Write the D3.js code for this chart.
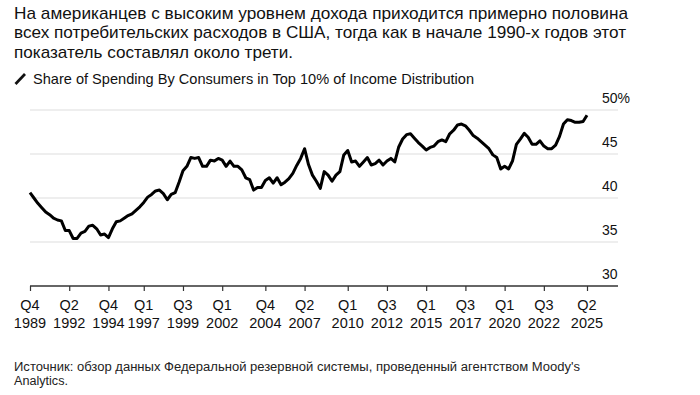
<!DOCTYPE html>
<html>
<head>
<meta charset="utf-8">
<script src="https://cdn.jsdelivr.net/npm/d3@7"></script>
<style>
  body { margin: 0; background: #fff; }
  svg { display: block; font-family: "Liberation Sans", Arial, Helvetica, sans-serif; }
</style>
</head>
<body>
<div id="chart"></div>
<script>
// Quarterly share (%), starting Q4 1989, ending Q2 2025
const firstYear = 1989;
const firstQuarter = 4;
const shareValues = [
  40.6, 40.0, 39.4, 38.9, 38.4, 38.1, 37.7, 37.5, 37.4, 36.3,
  36.3, 35.4, 35.4, 36.0, 36.2, 36.8, 36.9, 36.5, 35.8, 35.9,
  35.5, 36.5, 37.3, 37.4, 37.7, 38.0, 38.2, 38.6, 39.0, 39.5,
  40.1, 40.4, 40.8, 40.9, 40.5, 39.8, 40.4, 40.6, 41.8, 43.1,
  43.6, 44.6, 44.5, 44.6, 43.6, 43.6, 44.3, 44.2, 44.5, 44.3,
  43.6, 44.2, 43.6, 43.6, 43.2, 42.3, 42.1, 40.9, 41.2, 41.2,
  42.0, 42.3, 41.7, 42.3, 41.5, 41.8, 42.2, 42.8, 43.7, 44.5,
  45.6, 43.8, 42.6, 41.9, 41.1, 43.0, 42.6, 41.9, 42.6, 43.0,
  44.9, 45.4, 44.1, 44.2, 43.6, 44.1, 44.6, 43.75, 43.9, 44.3,
  43.75, 44.2, 44.5, 44.1, 45.8, 46.7, 47.2, 47.3, 46.8, 46.3,
  45.9, 45.45, 45.75, 45.9, 46.4, 46.6, 46.4, 47.3, 47.7, 48.3,
  48.4, 48.2, 47.7, 47.1, 46.8, 46.4, 46.0, 45.6, 44.9, 44.6,
  43.3, 43.6, 43.3, 44.2, 46.1, 46.7, 47.35, 46.9, 46.1, 46.1,
  46.5, 45.9, 45.6, 45.6, 46.0, 47.0, 48.4, 48.9, 48.8, 48.6,
  48.6, 48.7, 49.4
];

const xTickLabels = [
  "Q4 1989", "Q2 1992", "Q4 1994", "Q1 1997", "Q3 1999", "Q1 2002", "Q4 2004",
  "Q2 2007", "Q1 2010", "Q3 2012", "Q1 2015", "Q3 2017", "Q1 2020", "Q3 2022", "Q2 2025"
];
const yTicks = [30, 35, 40, 45, 50];

const titleLines = [
  "На американцев с высоким уровнем дохода приходится примерно половина",
  "всех потребительских расходов в США, тогда как в начале 1990-х годов этот",
  "показатель составлял около трети."
];
const titleWidths = [614, 612, 279];
const subtitle = "Share of Spending By Consumers in Top 10% of Income Distribution";
const sourceLines = [
  "Источник: обзор данных Федеральной резервной системы, проведенный агентством Moody's",
  "Analytics."
];
const sourceWidths = [566, 54];

const width = 700, height = 395;
const plot = { left: 30, right: 587, top: 110, bottom: 286, gridEnd: 618 };

const quarterIndex = label => {
  const [q, y] = label.split(" ");
  return (+y - firstYear) * 4 + (+q.slice(1) - firstQuarter);
};

const svg = d3.select("#chart").append("svg")
  .attr("width", width)
  .attr("height", height);

// Title
svg.append("g")
  .selectAll("text")
  .data(titleLines)
  .join("text")
  .attr("x", 14)
  .attr("y", (d, i) => 18.5 + i * 19.5)
  .attr("font-size", 17)
  .attr("fill", "#111")
  .attr("textLength", (d, i) => titleWidths[i])
  .attr("lengthAdjust", "spacingAndGlyphs")
  .text(d => d);

// Legend
svg.append("line")
  .attr("x1", 15.5).attr("y1", 84)
  .attr("x2", 25).attr("y2", 74)
  .attr("stroke", "#111")
  .attr("stroke-width", 2.7);

svg.append("text")
  .attr("x", 33)
  .attr("y", 84)
  .attr("font-size", 15)
  .attr("fill", "#111")
  .attr("textLength", 441)
  .attr("lengthAdjust", "spacingAndGlyphs")
  .text(subtitle);

const x = d3.scaleLinear()
  .domain([0, shareValues.length - 1])
  .range([plot.left, plot.right]);

const y = d3.scaleLinear()
  .domain([30, 50])
  .range([plot.bottom, plot.top]);

// Gridlines
svg.append("g")
  .selectAll("line")
  .data(yTicks.filter(d => d > 30))
  .join("line")
  .attr("x1", plot.left)
  .attr("x2", plot.gridEnd)
  .attr("y1", d => y(d))
  .attr("y2", d => y(d))
  .attr("stroke", "#dedede")
  .attr("stroke-width", 1.2);

// Y labels
svg.append("g")
  .selectAll("text")
  .data(yTicks)
  .join("text")
  .attr("x", 602)
  .attr("y", d => y(d) - 7)
  .attr("font-size", 14)
  .attr("fill", "#111")
  .text(d => d === 50 ? "50%" : d);

// X axis
const xAxis = d3.axisBottom(x)
  .tickValues(xTickLabels.map(quarterIndex))
  .tickSize(5)
  .tickFormat("");

const axisG = svg.append("g")
  .attr("transform", `translate(0,${plot.bottom})`)
  .call(xAxis);

axisG.select(".domain").remove();
axisG.selectAll(".tick line").attr("stroke", "#333").attr("stroke-width", 1.2);
axisG.append("line")
  .attr("x1", plot.left).attr("x2", plot.gridEnd)
  .attr("stroke", "#333").attr("stroke-width", 1.3);

const labelG = svg.append("g")
  .selectAll("text")
  .data(xTickLabels)
  .join("text")
  .attr("text-anchor", "middle")
  .attr("font-size", 14.5)
  .attr("fill", "#111");

labelG.append("tspan")
  .attr("y", 310)
  .attr("x", d => x(quarterIndex(d)))
  .text(d => d.split(" ")[0]);
labelG.append("tspan")
  .attr("y", 327.5)
  .attr("x", d => x(quarterIndex(d)))
  .text(d => d.split(" ")[1]);

// Line
const line = d3.line()
  .x((d, i) => x(i))
  .y(d => y(d));

svg.append("path")
  .datum(shareValues)
  .attr("fill", "none")
  .attr("stroke", "#000")
  .attr("stroke-width", 3)
  .attr("stroke-linejoin", "round")
  .attr("d", line);

// Source
svg.append("g")
  .selectAll("text")
  .data(sourceLines)
  .join("text")
  .attr("x", 14)
  .attr("y", (d, i) => 370.5 + i * 14)
  .attr("font-size", 12.5)
  .attr("fill", "#222")
  .attr("textLength", (d, i) => sourceWidths[i])
  .attr("lengthAdjust", "spacingAndGlyphs")
  .text(d => d);
</script>
</body>
</html>
